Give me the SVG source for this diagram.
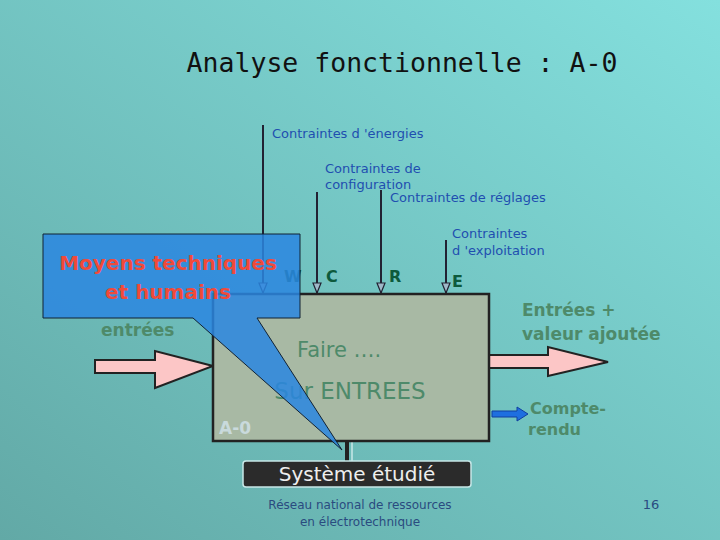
<svg xmlns="http://www.w3.org/2000/svg" width="720" height="540" viewBox="0 0 720 540">
<defs>
<linearGradient id="bg" x1="0" y1="1" x2="1" y2="0">
<stop offset="0" stop-color="#62a9a6"/><stop offset="1" stop-color="#84e0de"/>
</linearGradient>
<marker id="ah" markerWidth="10" markerHeight="12" refX="5" refY="11" orient="0" markerUnits="userSpaceOnUse">
<path d="M1,1 L9,1 L5,11 Z" fill="#9fb8c8" stroke="#223" stroke-width="1.2"/>
</marker>
<style>
.ln{stroke:#223;stroke-width:2;fill:none}
.sm{font-family:"Comic Sans MS","DejaVu Sans",sans-serif;font-size:13px;fill:#1f4fb0}
.lab{font-family:"DejaVu Sans",sans-serif;font-weight:bold;font-size:16px;fill:#0d5a3c}
.gr{font-family:"DejaVu Sans",sans-serif;font-weight:bold;fill:#4e8a6a}
</style>
</defs>
<rect width="720" height="540" fill="url(#bg)"/>
<text x="402" y="72" text-anchor="middle" font-family="DejaVu Sans Mono,monospace" font-size="26.5" fill="#111">Analyse fonctionnelle : A-0</text>
<g id="connectors">
<line class="ln" x1="263" y1="125" x2="263" y2="293" marker-end="url(#ah)"/>
<line class="ln" x1="317" y1="192" x2="317" y2="293" marker-end="url(#ah)"/>
<line class="ln" x1="381" y1="190" x2="381" y2="293" marker-end="url(#ah)"/>
<line class="ln" x1="446" y1="240" x2="446" y2="293" marker-end="url(#ah)"/>
<path d="M95,360 H155 V351 L213,366 L155,388 V373 H95 Z" fill="#fcc6c6" stroke="#222" stroke-width="2"/>
<path d="M489,355 H548 V347 L608,362 L548,376 V368 H489 Z" fill="#fcc6c6" stroke="#222" stroke-width="2"/>
<path d="M492,411 H517 V407 L528,414 L517,421 V417 H492 Z" fill="#1e6fe0" stroke="#1040a0" stroke-width="1"/>
<line x1="347" y1="441" x2="347" y2="461" stroke="#222" stroke-width="4"/>
<line x1="352" y1="441" x2="352" y2="461" stroke="#c8e8e8" stroke-width="1.5"/>
</g>
<g id="labels">
<text class="sm" x="272" y="138">Contraintes d 'énergies</text>
<text class="sm" x="325" y="173">Contraintes de</text>
<text class="sm" x="325" y="189">configuration</text>
<text class="sm" x="390" y="202">Contraintes de réglages</text>
<text class="sm" x="452" y="238">Contraintes</text>
<text class="sm" x="452" y="255">d 'exploitation</text>
<text class="lab" x="284" y="282" font-size="14">W</text>
<text class="lab" x="326" y="282">C</text>
<text class="lab" x="389" y="282">R</text>
<text class="lab" x="452" y="287">E</text>
<text class="gr" x="101" y="336" font-size="17">entrées</text>
<text class="gr" x="522" y="316" font-size="17">Entrées +</text>
<text class="gr" x="522" y="340" font-size="17">valeur ajoutée</text>
<text class="gr" x="530" y="414" font-size="16">Compte-</text>
<text class="gr" x="528" y="435" font-size="16">rendu</text>
</g>
<g id="box">
<rect x="213" y="294" width="276" height="147" fill="#a8b9a4" stroke="#222" stroke-width="2.5"/>
<text x="297" y="357" font-family="DejaVu Sans,sans-serif" font-size="21" fill="#4e8a6a">Faire ….</text>
<text x="350" y="399" text-anchor="middle" font-family="DejaVu Sans,sans-serif" font-size="23" fill="#4e8a6a">Sur ENTREES</text>
<text x="219" y="434" font-family="DejaVu Sans,sans-serif" font-weight="bold" font-size="17" fill="#c9dadc">A-0</text>
</g>
<g id="callout">
<path d="M43,234 H300 V318 H257 L342,450 L193,318 H43 Z" fill="#2a86e0" fill-opacity="0.85" stroke="#123" stroke-width="1"/>
<text x="168" y="270" text-anchor="middle" font-family="DejaVu Sans,sans-serif" font-weight="bold" font-size="20" fill="#f04a3a">Moyens techniques</text>
<text x="168" y="299" text-anchor="middle" font-family="DejaVu Sans,sans-serif" font-weight="bold" font-size="20" fill="#f04a3a">et humains</text>
</g>
<g id="systeme">
<rect x="243" y="461" width="228" height="26" rx="3" fill="#2b2b2b" stroke="#c8e8e8" stroke-width="1.5"/>
<text x="357" y="481" text-anchor="middle" font-family="DejaVu Sans,sans-serif" font-size="20" fill="#eee">Système étudié</text>
</g>
<text x="360" y="509" text-anchor="middle" font-family="DejaVu Sans,sans-serif" font-size="12" fill="#2a4b80">Réseau national de ressources</text>
<text x="360" y="526" text-anchor="middle" font-family="DejaVu Sans,sans-serif" font-size="12" fill="#2a4b80">en électrotechnique</text>
<text x="651" y="509" text-anchor="middle" font-family="DejaVu Sans,sans-serif" font-size="13" fill="#2a4b80">16</text>
</svg>
